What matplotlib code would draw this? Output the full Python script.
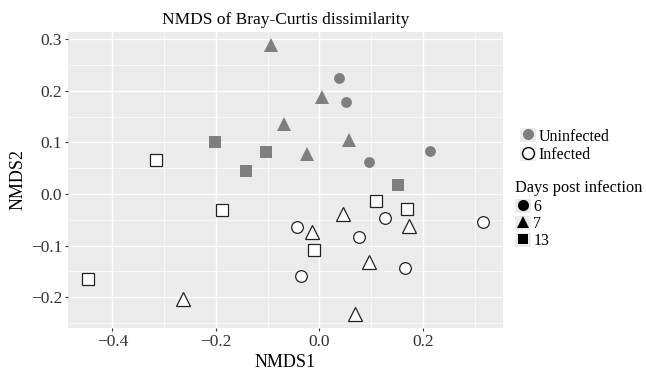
import numpy as np
import matplotlib
matplotlib.use('Agg')
import matplotlib.pyplot as plt
from matplotlib.lines import Line2D
from matplotlib.patches import Rectangle
from matplotlib.legend_handler import HandlerTuple

plt.rcParams['font.family'] = ['Liberation Serif', 'DejaVu Serif']

# --- DATA (NMDS coordinates) ---
uninf_6_x = [0.037, 0.051, 0.213, 0.095]
uninf_6_y = [0.224, 0.179, 0.083, 0.062]
uninf_7_x = [-0.094, 0.005, -0.068, 0.057, -0.023]
uninf_7_y = [0.288, 0.189, 0.136, 0.104, 0.077]
uninf_13_x = [-0.201, -0.104, -0.141, 0.152]
uninf_13_y = [0.100, 0.082, 0.045, 0.018]

inf_6_x = [-0.043, -0.035, 0.126, 0.316, 0.077, 0.166]
inf_6_y = [-0.063, -0.158, -0.047, -0.054, -0.083, -0.144]
inf_7_x = [-0.015, -0.263, 0.046, 0.173, 0.096, 0.068]
inf_7_y = [-0.073, -0.204, -0.038, -0.061, -0.132, -0.233]
inf_13_x = [-0.315, -0.188, -0.010, -0.447, 0.110, 0.169]
inf_13_y = [0.066, -0.031, -0.109, -0.165, -0.013, -0.029]

x_ticks = [-0.4, -0.2, 0.0, 0.2]
y_ticks = [-0.2, -0.1, 0.0, 0.1, 0.2, 0.3]
status_labels = ['Uninfected', 'Infected']
day_labels = ['6', '7', '13']

GREY = '#7f7f7f'
PANEL = '#ebebeb'
TXT = '#333333'

fig = plt.figure(figsize=(6.46, 3.71), dpi=100)
ax = fig.add_axes([0.1057, 0.1167, 0.6725, 0.797])
ax.set_facecolor(PANEL)
for s in ax.spines.values():
    s.set_visible(False)

# marker size per shape (ggplot-ish sizes)
msize = {'o': 7.8, '^': 10.0, 's': 8.0}

groups_uninf = [(uninf_6_x, uninf_6_y, 'o'), (uninf_7_x, uninf_7_y, '^'),
                (uninf_13_x, uninf_13_y, 's')]
groups_inf = [(inf_6_x, inf_6_y, 'o'), (inf_7_x, inf_7_y, '^'),
              (inf_13_x, inf_13_y, 's')]

for xs, ys, m in groups_uninf:
    ax.plot(xs, ys, linestyle='none', marker=m, markersize=msize[m],
            markerfacecolor=GREY, markeredgecolor=GREY, markeredgewidth=0, zorder=3)
for xs, ys, m in groups_inf:
    ax.plot(xs, ys, linestyle='none', marker=m, markersize=msize[m] + 0.6,
            markerfacecolor='white', markeredgecolor='#222222', markeredgewidth=0.9, zorder=3)

# limits with ggplot's 5% expansion
all_x = uninf_6_x + uninf_7_x + uninf_13_x + inf_6_x + inf_7_x + inf_13_x
all_y = uninf_6_y + uninf_7_y + uninf_13_y + inf_6_y + inf_7_y + inf_13_y
dx = (max(all_x) - min(all_x)) * 0.05
dy = (max(all_y) - min(all_y)) * 0.05
ax.set_xlim(min(all_x) - dx, max(all_x) + dx)
ax.set_ylim(min(all_y) - dy, max(all_y) + dy)

ax.set_xticks(x_ticks)
ax.set_xticklabels([f'{v:.1f}'.replace('-', '\u2212') for v in x_ticks])
ax.set_yticks(y_ticks)
ax.set_yticklabels([f'{v:.1f}'.replace('-', '\u2212') for v in y_ticks])
ax.set_xticks([-0.3, -0.1, 0.1, 0.3], minor=True)
ax.set_yticks([-0.25, -0.15, -0.05, 0.05, 0.15, 0.25], minor=True)
ax.grid(which='major', color='white', linewidth=1.0)
ax.grid(which='minor', color='white', linewidth=0.5)
ax.set_axisbelow(True)
ax.tick_params(which='major', length=2.5, width=0.8, color='#333333',
               labelsize=12.5, labelcolor=TXT, pad=2)
ax.tick_params(which='minor', length=0)

ax.set_xlabel('NMDS1', fontsize=13, labelpad=3)
ax.set_ylabel('NMDS2', fontsize=13, labelpad=3)
ax.set_title('NMDS of Bray-Curtis dissimilarity', fontsize=12.5, pad=6)

# --- legends ---
def key(marker, fc, ec, ms, mew):
    bg = Rectangle((0, 0), 1, 1, facecolor=PANEL, edgecolor='none')
    mk = Line2D([], [], linestyle='none', marker=marker, markersize=ms,
                markerfacecolor=fc, markeredgecolor=ec, markeredgewidth=mew)
    return (bg, mk)

leg_kw = dict(loc='upper left', frameon=False, fontsize=11.5, handlelength=1.0,
              handleheight=1.0, handletextpad=0.15,
              borderaxespad=0, borderpad=0,
              handler_map={tuple: HandlerTuple(ndivide=1, pad=0)})

h1 = [key('o', GREY, GREY, 8, 0), key('o', 'white', 'black', 8.5, 1.0)]
fig.legend(h1, status_labels, bbox_to_anchor=(0.805, 0.655), labelspacing=0.12, **leg_kw)

h2 = [key('o', 'black', 'black', 8, 0), key('^', 'black', 'black', 9, 0),
      key('s', 'black', 'black', 7.5, 0)]
leg2 = fig.legend(h2, day_labels, bbox_to_anchor=(0.797, 0.515), labelspacing=0.02,
                  title='Days post infection', title_fontsize=11.8, alignment='left',
                  **leg_kw)
leg2._legend_box.sep = 2

fig.savefig('out.png', dpi=100)
